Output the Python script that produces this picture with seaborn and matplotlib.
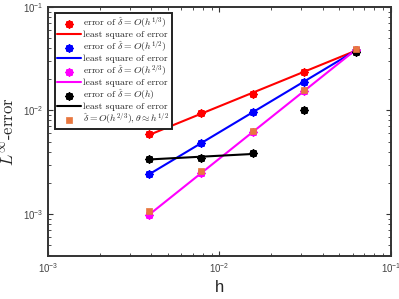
import numpy as np
import pandas as pd
import matplotlib
matplotlib.use("Agg")
import matplotlib.pyplot as plt
import seaborn as sns

# mesh sizes
h = [1 / 256, 1 / 128, 1 / 64, 1 / 32, 1 / 16]

# errors
err_third = [0.00586, 0.00935, 0.01452, 0.0234, 0.0385]
err_half = [0.00244, 0.0048, 0.00964, 0.0187, 0.0385]
err_twothird = [0.00098, 0.0025, 0.0062, 0.0155, 0.0385]
err_linear = [0.0034, 0.00349, 0.00384, 0.0102, 0.0368]
err_theta = [0.00106, 0.0026, 0.0063, 0.01567, 0.039]

labels_err = [
    r"error of $\hat{\delta}=O(h^{1/3})$",
    r"error of $\hat{\delta}=O(h^{1/2})$",
    r"error of $\hat{\delta}=O(h^{2/3})$",
    r"error of $\hat{\delta}=O(h)$",
]
label_fit = "least square of error"
label_theta = r"$\hat{\delta}=O(h^{2/3}),\theta\approx h^{1/2}$"


def lsq(x, y):
    # least squares line in log-log space
    p = np.polyfit(np.log10(x), np.log10(y), 1)
    return 10 ** np.polyval(p, np.log10(x))


sns.set_style("ticks")
plt.rcParams["mathtext.fontset"] = "cm"
plt.rcParams["font.family"] = ["cmr10", "DejaVu Serif"]
plt.rcParams["axes.formatter.use_mathtext"] = True

fig = plt.figure(figsize=(3.99, 2.99), dpi=100)
ax = fig.add_axes([0.12, 0.144, 0.86, 0.833])

asterisk = (8, 2, 0)
series = [
    (err_third, "#ff0000", 5),
    (err_half, "#0000ff", 5),
    (err_twothird, "#ff00ff", 5),
    (err_linear, "#000000", 3),
]
for (err, col, nfit), lab in zip(series, labels_err):
    sns.scatterplot(x=h, y=err, ax=ax, marker=asterisk, s=20, color=col,
                    edgecolor=col, linewidth=1.6, label=lab, zorder=3)
    sns.lineplot(x=h[:nfit], y=lsq(h[:nfit], err[:nfit]), ax=ax, color=col,
                 linewidth=1.5, label=label_fit, zorder=2)

sns.scatterplot(x=h, y=err_theta, ax=ax, marker="s", s=22, color="#e8773f",
                edgecolor="#e8773f", linewidth=0.5, label=label_theta, zorder=4)

ax.set_xscale("log")
ax.set_yscale("log")
ax.set_xlim(1e-3, 1e-1)
ax.set_ylim(3.93e-4, 1e-1)

ax.set_xlabel("h", fontsize=12, family="Liberation Sans", labelpad=4)
ax.set_ylabel(r"$L^{\infty}$-error", fontsize=12, labelpad=4)

ax.tick_params(which="both", direction="in", top=True, right=True,
               color="#333333")
ax.tick_params(which="major", length=3.5, labelsize=7, labelcolor="#444444")
ax.tick_params(which="minor", length=2)
for lab in ax.get_xticklabels() + ax.get_yticklabels():
    lab.set_family("Liberation Sans")
for sp in ax.spines.values():
    sp.set_color("#333333")
    sp.set_linewidth(1.4)

leg = ax.legend(loc="upper left", bbox_to_anchor=(0.02, 0.975), fontsize=7,
                frameon=True, fancybox=False, edgecolor="#222222",
                framealpha=1.0, handlelength=2.4, handletextpad=0.3,
                borderpad=0.25, labelspacing=0.02, borderaxespad=0.0)
leg.get_frame().set_linewidth(1.4)

fig.savefig("out.png", dpi=100)
